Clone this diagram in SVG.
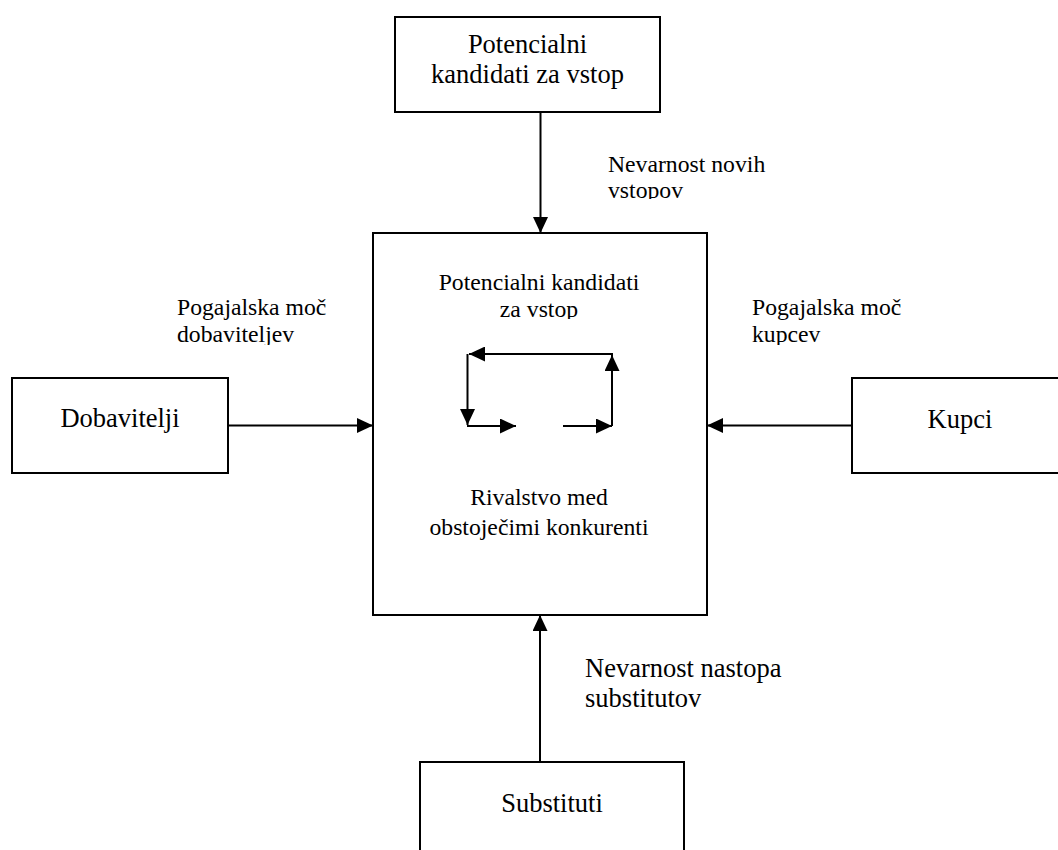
<svg xmlns="http://www.w3.org/2000/svg" width="1058" height="850" viewBox="0 0 1058 850">
  <style>
    .box { fill: #ffffff; stroke: #000000; stroke-width: 2; }
    .line { fill: none; stroke: #000000; stroke-width: 2; }
    text { font-family: "Liberation Serif", "Times New Roman", serif; fill: #000000; }
    .big { font-size: 26.5px; }
    .lab { font-size: 23.7px; }
    .mid { text-anchor: middle; }
  </style>
  <defs>
    <marker id="ah" markerUnits="userSpaceOnUse" markerWidth="16" markerHeight="15" refX="16" refY="7.5" orient="auto">
      <path d="M0,0 L16,7.5 L0,15 Z" fill="#000000"/>
    </marker>
    <clipPath id="c1"><rect x="590" y="140" width="220" height="59"/></clipPath>
    <clipPath id="c2"><rect x="400" y="260" width="280" height="59"/></clipPath>
    <clipPath id="c3"><rect x="160" y="285" width="200" height="60"/></clipPath>
    <clipPath id="c4"><rect x="740" y="285" width="200" height="60"/></clipPath>
  </defs>

  <g id="connectors">
    <line class="line" x1="540.5" y1="112" x2="540.5" y2="233" marker-end="url(#ah)"/>
    <line class="line" x1="228" y1="425.5" x2="373" y2="425.5" marker-end="url(#ah)"/>
    <line class="line" x1="852" y1="425.5" x2="707" y2="425.5" marker-end="url(#ah)"/>
    <line class="line" x1="540" y1="762" x2="540" y2="615" marker-end="url(#ah)"/>
  </g>

  <g id="node-top">
    <rect class="box" x="395" y="17" width="265" height="95"/>
    <text class="big mid" x="527.5" y="53">Potencialni</text>
    <text class="big mid" x="527.5" y="83">kandidati za vstop</text>
  </g>

  <g id="node-center">
    <rect class="box" x="373" y="233" width="334" height="382"/>
    <g clip-path="url(#c2)">
      <text class="lab mid" x="539" y="290">Potencialni kandidati</text>
      <text class="lab mid" x="539" y="317">za vstop</text>
    </g>
    <g id="cycle">
      <polyline class="line" points="612,426 612,354 469,354" marker-end="url(#ah)"/>
      <polyline class="line" points="612,426 612,355" marker-end="url(#ah)"/>
      <polyline class="line" points="467.5,354 467.5,425" marker-end="url(#ah)"/>
      <line class="line" x1="467" y1="426" x2="516" y2="426" marker-end="url(#ah)"/>
      <line class="line" x1="563" y1="426" x2="612" y2="426" marker-end="url(#ah)"/>
    </g>
    <text class="lab mid" x="539" y="505">Rivalstvo med</text>
    <text class="lab mid" x="539" y="535">obstoječimi konkurenti</text>
  </g>

  <g id="node-left">
    <rect class="box" x="12" y="378" width="216" height="95"/>
    <text class="big mid" x="120" y="427">Dobavitelji</text>
  </g>

  <g id="node-right">
    <rect class="box" x="852" y="378" width="220" height="95"/>
    <text class="big mid" x="960" y="428">Kupci</text>
  </g>

  <g id="node-bottom">
    <rect class="box" x="420" y="762" width="264" height="100"/>
    <text class="big mid" x="552" y="812">Substituti</text>
  </g>

  <g id="labels">
    <g clip-path="url(#c1)">
      <text class="lab" x="608" y="172">Nevarnost novih</text>
      <text class="lab" x="608" y="198">vstopov</text>
    </g>
    <g clip-path="url(#c3)">
      <text class="lab" x="177" y="315">Pogajalska moč</text>
      <text class="lab" x="177" y="342">dobaviteljev</text>
    </g>
    <g clip-path="url(#c4)">
      <text class="lab" x="752" y="315">Pogajalska moč</text>
      <text class="lab" x="752" y="342">kupcev</text>
    </g>
    <text class="big" x="585" y="677">Nevarnost nastopa</text>
    <text class="big" x="585" y="707">substitutov</text>
  </g>
</svg>
